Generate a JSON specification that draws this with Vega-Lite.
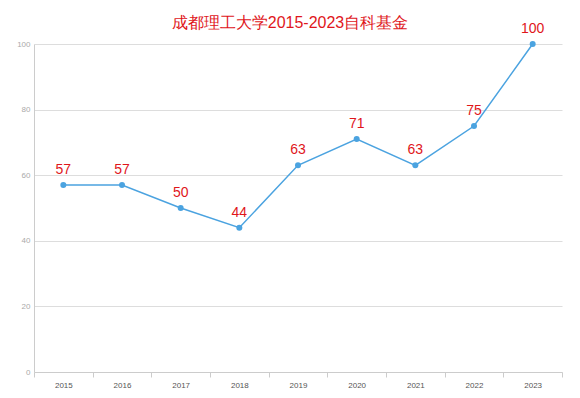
{
  "$schema": "https://vega.github.io/schema/vega-lite/v6.json",
  "width": 528,
  "height": 328,
  "autosize": {"type": "none"},
  "padding": {"left": 34, "top": 44, "right": 18, "bottom": 26},
  "background": "white",
  "title": {
    "text": "成都理工大学2015-2023自科基金",
    "color": "#e0161b",
    "fontSize": 16,
    "fontWeight": "normal",
    "font": "Liberation Sans",
    "anchor": "middle",
    "frame": "group",
    "dx": -8,
    "offset": -9
  },
  "config": {
    "view": {"stroke": null},
    "font": "Liberation Sans"
  },
  "data": {
    "values": [
      {"year": "2015", "value": 57},
      {"year": "2016", "value": 57},
      {"year": "2017", "value": 50},
      {"year": "2018", "value": 44},
      {"year": "2019", "value": 63},
      {"year": "2020", "value": 71},
      {"year": "2021", "value": 63},
      {"year": "2022", "value": 75},
      {"year": "2023", "value": 100}
    ]
  },
  "encoding": {
    "x": {
      "field": "year",
      "type": "ordinal",
      "scale": {"type": "band", "paddingInner": 0, "paddingOuter": 0},
      "axis": {
        "title": null,
        "labelAngle": 0,
        "labelColor": "#555555",
        "labelFontSize": 8,
        "labelPadding": 4,
        "domainColor": "#cccccc",
        "tickColor": "#cccccc",
        "tickBand": "extent",
        "tickSize": 5,
        "grid": false
      }
    },
    "y": {
      "field": "value",
      "type": "quantitative",
      "scale": {"domain": [0, 100], "nice": false},
      "axis": {
        "title": null,
        "values": [0, 20, 40, 60, 80, 100],
        "labelColor": "#aaaaaa",
        "labelFontSize": 8,
        "labelPadding": 4,
        "ticks": false,
        "domainColor": "#cccccc",
        "gridColor": "#dddddd"
      }
    }
  },
  "layer": [
    {
      "mark": {"type": "line", "color": "#4ba3e0", "strokeWidth": 1.5}
    },
    {
      "mark": {"type": "point", "filled": true, "color": "#4ba3e0", "size": 36, "opacity": 1}
    },
    {
      "mark": {"type": "text", "color": "#e0161b", "fontSize": 14, "dy": -15, "baseline": "middle"},
      "encoding": {"text": {"field": "value", "type": "quantitative"}}
    }
  ]
}
